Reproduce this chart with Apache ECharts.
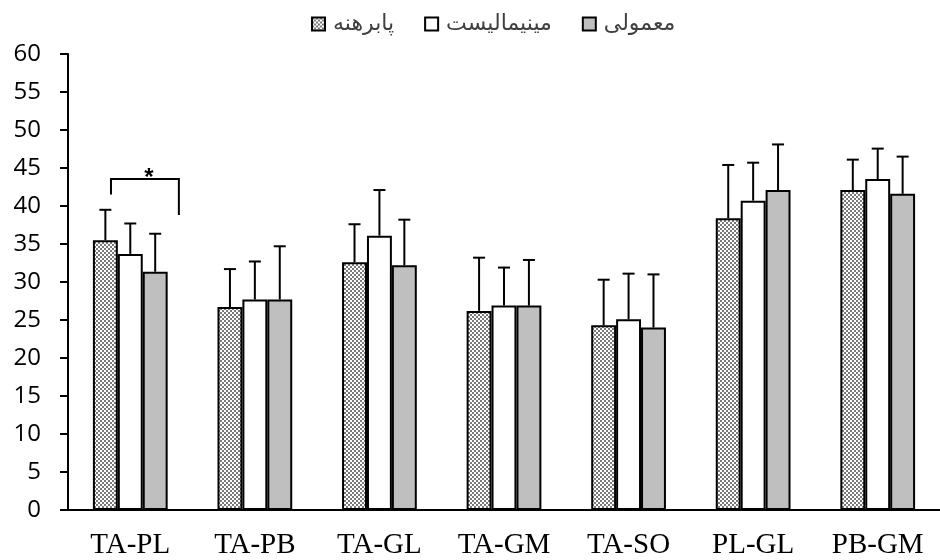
<!DOCTYPE html>
<html>
<head>
<meta charset="utf-8">
<script src="https://cdn.jsdelivr.net/npm/echarts@6/dist/echarts.min.js"></script>
<style>
html,body{margin:0;padding:0;background:#fff;}
#chart{width:940px;height:560px;}
</style>
</head>
<body>
<div id="chart"></div>
<script>
const categories = ['TA-PL','TA-PB','TA-GL','TA-GM','TA-SO','PL-GL','PB-GM'];
const seriesNames = ['پابرهنه','مینیمالیست','معمولی'];
const barefoot   = [35.5, 26.7, 32.6, 26.2, 24.3, 38.4, 42.1];
const barefootSD = [4.0, 5.0, 5.0, 7.0, 6.0, 7.0, 4.0];
const minimal    = [33.7, 27.7, 36.1, 26.9, 25.1, 40.7, 43.55];
const minimalSD  = [4.0, 5.0, 6.0, 5.0, 6.0, 5.0, 4.0];
const normal     = [31.35, 27.7, 32.2, 26.9, 24.0, 42.1, 41.6];
const normalSD   = [5.0, 7.0, 6.0, 6.0, 7.0, 6.0, 4.9];
const yTicks = {min: 0, max: 60, interval: 5};
// significance bracket: [category index, top value, left end value, right end value, label]
const significance = [[0, 43.55, 41.5, 38.8, '*']];

const cv = document.createElement('canvas');
cv.width = 4; cv.height = 4;
const cx = cv.getContext('2d');
cx.fillStyle = '#ffffff'; cx.fillRect(0,0,4,4);
cx.fillStyle = '#7a7a7a'; cx.fillRect(0,0,2,2); cx.fillRect(2,2,2,2);
const checker = {image: cv, repeat: 'repeat'};

const fills = [checker, '#ffffff', '#bfbfbf'];
const values = [barefoot, minimal, normal];
const sds = [barefootSD, minimalSD, normalSD];
const offsets = [-0.2, 0, 0.2];

const series = [];
values.forEach((vals, k) => {
  series.push({
    name: seriesNames[k],
    type: 'bar',
    data: vals,
    barGap: '0%',
    barCategoryGap: '40%',
    itemStyle: {color: fills[k], borderColor: '#000', borderWidth: 2},
    z: 2
  });
});
values.forEach((vals, k) => {
  const off = offsets[k];
  series.push({
    type: 'custom',
    name: 'err' + k,
    z: 5,
    silent: true,
    data: vals.map((v, i) => [i, v, v + sds[k][i]]),
    renderItem: function (params, api) {
      const i = api.value(0);
      const bw = api.size([1, 0])[0];
      const p0 = api.coord([i, api.value(1)]);
      const p1 = api.coord([i, api.value(2)]);
      const x = p0[0] + off * bw;
      const hw = 6;
      return {
        type: 'group',
        children: [
          {type: 'line', shape: {x1: x, y1: p0[1], x2: x, y2: p1[1]}, style: {stroke: '#000', lineWidth: 2}},
          {type: 'line', shape: {x1: x - hw, y1: p1[1], x2: x + hw, y2: p1[1]}, style: {stroke: '#000', lineWidth: 2}}
        ]
      };
    }
  });
});
series.push({
  type: 'custom',
  name: 'sig',
  z: 6,
  silent: true,
  data: significance,
  renderItem: function (params, api) {
    const i = api.value(0);
    const bw = api.size([1, 0])[0];
    const pt = api.coord([i, api.value(1)]);
    const pl = api.coord([i, api.value(2)]);
    const pr = api.coord([i, api.value(3)]);
    const xl = pt[0] - 0.155 * bw;
    const xr = pt[0] + 0.39 * bw;
    return {
      type: 'group',
      children: [
        {type: 'polyline', shape: {points: [[xl, pl[1]], [xl, pt[1]], [xr, pt[1]], [xr, pr[1]]]},
         style: {stroke: '#000', lineWidth: 2, fill: null}},
        {type: 'text', x: pt[0] + 0.15 * bw, y: pt[1] - 1,
         style: {text: significance[params.dataIndex][4], font: 'bold 24px "Liberation Sans"', fill: '#000',
                 align: 'center', verticalAlign: 'middle'}}
      ]
    };
  }
});

const chart = echarts.init(document.getElementById('chart'), null, {renderer: 'canvas'});
chart.setOption({
  animation: false,
  backgroundColor: '#fff',
  legend: {
    data: seriesNames,
    top: 8,
    left: 306,
    itemWidth: 13,
    itemHeight: 13,
    itemGap: 30,
    icon: 'rect',
    textStyle: {fontFamily: 'DejaVu Sans', fontSize: 22, color: '#404040', padding: [0, 0, 0, 3]}
  },
  grid: {left: 68, right: -5, top: 54, bottom: 50},
  xAxis: {
    type: 'category',
    data: categories,
    axisLine: {lineStyle: {color: '#000', width: 2}},
    axisTick: {show: false},
    axisLabel: {fontFamily: '"Liberation Serif"', fontSize: 29, color: '#000', margin: 21,
                interval: 0, hideOverlap: false}
  },
  yAxis: {
    type: 'value',
    min: yTicks.min, max: yTicks.max, interval: yTicks.interval,
    axisLine: {show: true, lineStyle: {color: '#000', width: 2}},
    axisTick: {show: true, length: 8, lineStyle: {color: '#000', width: 2}},
    splitLine: {show: false},
    axisLabel: {fontFamily: '"Open Sans"', fontSize: 24, color: '#000', margin: 27}
  },
  series: series
});
</script>
</body>
</html>
